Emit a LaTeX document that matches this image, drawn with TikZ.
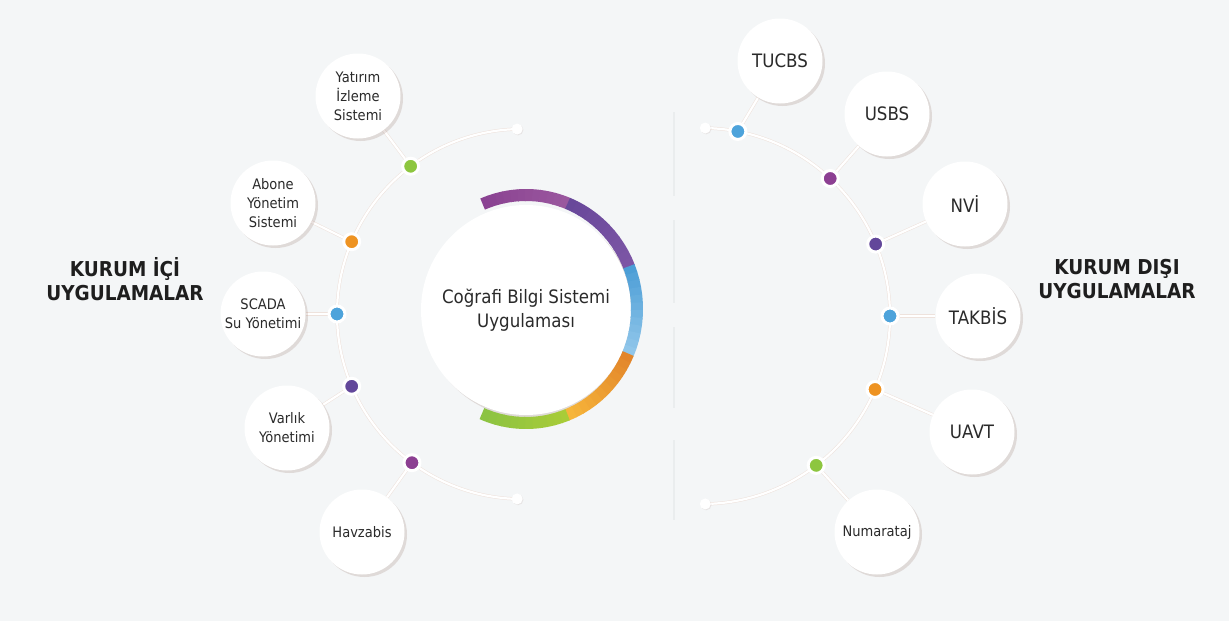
\documentclass[tikz,border=0pt]{standalone}
\usepackage{fontspec}
\setmainfont{DejaVu Sans}[FakeStretch=0.9]
\usetikzlibrary{calc,shadows,backgrounds}
\definecolor{bg}{HTML}{F4F6F7}
\definecolor{txt}{HTML}{2A2A2A}
\definecolor{headtxt}{HTML}{1E1E1E}
\definecolor{shd}{HTML}{8C6A60}
\definecolor{railedge}{HTML}{EEE2DC}
\definecolor{vline}{HTML}{EAEDEE}
\definecolor{cgreen}{HTML}{8DC63F}
\definecolor{corange}{HTML}{EE9322}
\definecolor{cblue}{HTML}{4DA3DB}
\definecolor{cdpurple}{HTML}{62479A}
\definecolor{cpurple}{HTML}{8C3F92}
\definecolor{pA}{HTML}{8A4292}
\definecolor{pB}{HTML}{9A579E}
\definecolor{dA}{HTML}{68489A}
\definecolor{dB}{HTML}{7C55A5}
\definecolor{bA}{HTML}{4C9ED6}
\definecolor{bB}{HTML}{90C6EA}
\definecolor{oA}{HTML}{E2852A}
\definecolor{oB}{HTML}{F6B53A}
\definecolor{gA}{HTML}{A8CC38}
\definecolor{gB}{HTML}{8CC342}
\newcommand\ringseg[4]{%
  \foreach \k in {0,...,11}{%
    \pgfmathsetmacro\aa{#1+(#2-#1)*\k/12}%
    \pgfmathsetmacro\bb{#1+(#2-#1)*(\k+1)/12+0.4}%
    \pgfmathtruncatemacro\pp{100-\k*100/11}%
    \draw[line width=12pt, #3!\pp!#4] ($(rc)+(\aa:111 and 114)$) arc[start angle=\aa, end angle=\bb, x radius=111, y radius=114];
  }%
}
\tikzset{
  bubble/.style={circle, fill=white, minimum size=85pt, inner sep=0pt, align=center, text=txt,
    font=\fontsize{14.5}{19}\selectfont,
    drop shadow={shadow xshift=2.5pt, shadow yshift=-2.5pt, opacity=0.2, fill=shd}},
  bigbubble/.style={bubble, font=\fontsize{18.5}{22}\selectfont},
  dot/.style={circle, minimum size=16pt, inner sep=0pt, draw=white, line width=3pt,
    drop shadow={shadow xshift=0.8pt, shadow yshift=-0.8pt, opacity=0.15, fill=shd}},
  enddot/.style={circle, minimum size=11pt, inner sep=0pt, fill=white,
    drop shadow={shadow xshift=0.8pt, shadow yshift=-0.8pt, opacity=0.12, fill=shd}},
  rail/.style={draw=railedge, double=white, double distance=2.2pt, line width=0.5pt},
  head/.style={align=center, font=\bfseries\fontsize{20.5}{24}\selectfont, text=headtxt},
}
\begin{document}
\begin{tikzpicture}[x=1pt,y=-1pt]
\useasboundingbox (0,0) rectangle (1229,621);
\begin{scope}[on background layer]
  \fill[bg] (0,0) rectangle (1229,621);
\end{scope}

% centres of the two rails and of the ring
\coordinate (cL) at (522,314);
\coordinate (cR) at (702,316);
\coordinate (rc) at (526,309);

% headings
\node[head] (hL) at (125,279) {KURUM İÇİ\\UYGULAMALAR};
\node[head] (hR) at (1117,279) {KURUM DIŞI\\UYGULAMALAR};

% centre
\node[circle, fill=white, minimum size=210pt, inner sep=0pt, align=center, text=txt,
  font=\fontsize{18.5}{24}\selectfont,
  drop shadow={shadow xshift=3pt, shadow yshift=-3pt, opacity=0.2, fill=shd}] (cgs) at (526,310)
  {Coğrafi Bilgi Sistemi\\Uygulaması};
\ringseg{-113}{-68}{pA}{pB}
\ringseg{-68}{-22}{dA}{dB}
\ringseg{-22}{23}{bA}{bB}
\ringseg{23}{68}{oA}{oB}
\ringseg{68}{113}{gA}{gB}

% left dots
\node[enddot] (eL1) at ($(cL)+(-91.5:185)$) {};
\node[enddot] (eL2) at ($(cL)+(-268.5:185)$) {};
\node[dot, fill=cgreen]   (dL1) at ($(cL)+(-127:185)$) {};
\node[dot, fill=corange]  (dL2) at ($(cL)+(-157:185)$) {};
\node[dot, fill=cblue]    (dL3) at ($(cL)+(-180:185)$) {};
\node[dot, fill=cdpurple] (dL4) at ($(cL)+(-203:185)$) {};
\node[dot, fill=cpurple]  (dL5) at ($(cL)+(-233.5:185)$) {};

% right dots
\node[enddot] (eR1) at ($(cR)+(-89:188)$) {};
\node[enddot] (eR2) at ($(cR)+(89:188)$) {};
\node[dot, fill=cblue]    (dR1) at ($(cR)+(-79:188)$) {};
\node[dot, fill=cpurple]  (dR2) at ($(cR)+(-47:188)$) {};
\node[dot, fill=cdpurple] (dR3) at ($(cR)+(-22.5:188)$) {};
\node[dot, fill=cblue]    (dR4) at ($(cR)+(0:188)$) {};
\node[dot, fill=corange]  (dR5) at ($(cR)+(23:188)$) {};
\node[dot, fill=cgreen]   (dR6) at ($(cR)+(52.6:188)$) {};

% left bubbles
\node[bubble] (bL1) at (358,96)  {Yatırım\\İzleme\\Sistemi};
\node[bubble] (bL2) at (273,203) {Abone\\Yönetim\\Sistemi};
\node[bubble] (bL3) at (263,314) {SCADA\\Su Yönetimi};
\node[bubble] (bL4) at (287,428) {Varlık\\Yönetimi};
\node[bubble] (bL5) at (362,532) {Havzabis};

% right bubbles
\node[bigbubble] (bR1) at (780,61)  {TUCBS};
\node[bigbubble] (bR2) at (887,114) {USBS};
\node[bigbubble] (bR3) at (965,204) {NVİ};
\node[bigbubble] (bR4) at (978,316) {TAKBİS};
\node[bigbubble] (bR5) at (972,432) {UAVT};
\node[bubble]    (bR6) at (877,532) {Numarataj};

\begin{scope}[on background layer]
  % faint dashed divider
  \foreach \ya/\yb in {112/196, 220/303, 327/408, 440/520}
    \draw[vline, line width=1.3pt] (674,\ya) -- (674,\yb);
  % rails
  \draw[rail] ($(cL)+(-91.5:185)$) arc[start angle=-91.5, end angle=-268.5, radius=185];
  \draw[rail] ($(cR)+(-89:188)$) arc[start angle=-89, end angle=89, radius=188];
  % connectors
  \draw[rail] (bL1) -- (dL1);
  \draw[rail] (bL2) -- (dL2);
  \draw[rail] (bL3) -- (dL3);
  \draw[rail] (bL4) -- (dL4);
  \draw[rail] (bL5) -- (dL5);
  \draw[rail] (bR1) -- (dR1);
  \draw[rail] (bR2) -- (dR2);
  \draw[rail] (bR3) -- (dR3);
  \draw[rail] (bR4) -- (dR4);
  \draw[rail] (bR5) -- (dR5);
  \draw[rail] (bR6) -- (dR6);
\end{scope}
\end{tikzpicture}
\end{document}
